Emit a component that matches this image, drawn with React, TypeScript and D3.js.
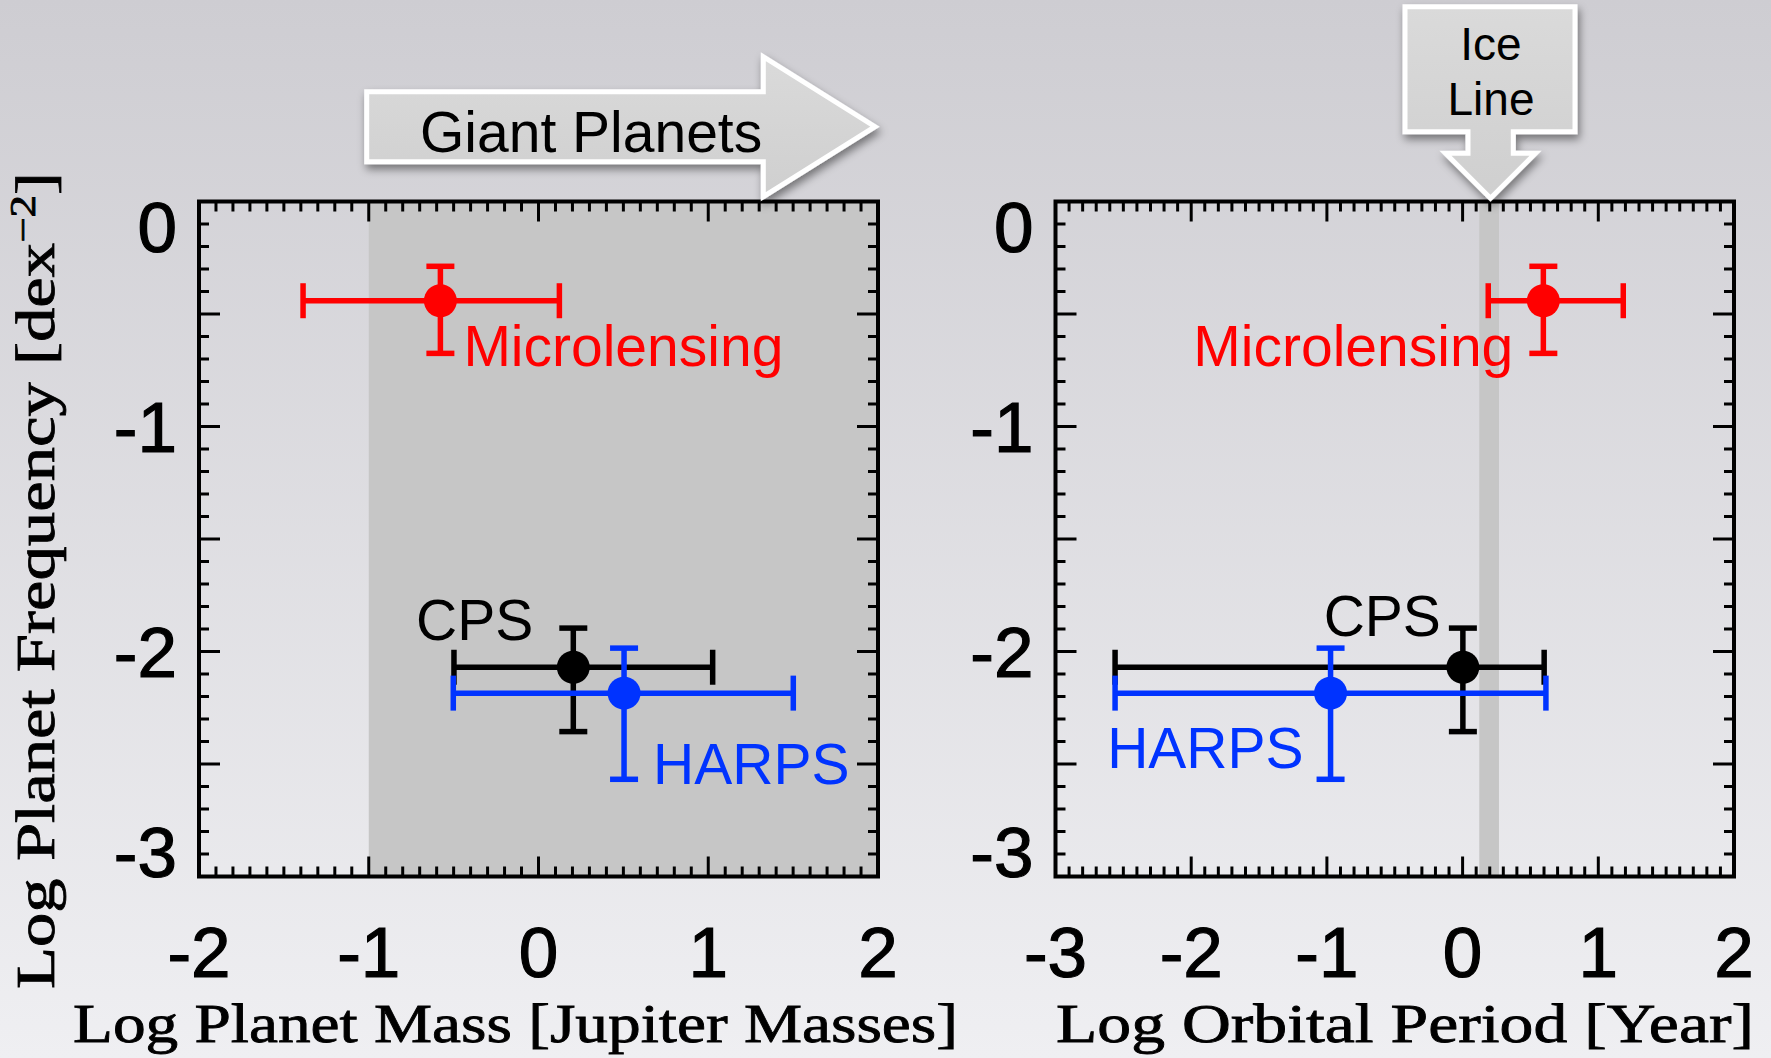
import React from "react";
import * as d3 from "d3";

// ---------- data ----------
const surveys = ["Microlensing", "CPS", "HARPS"];
const surveyColors = ["#ff0000", "#000000", "#0033ff"];
// log planet frequency [dex^-2]
const logFreq = [-0.441, -2.07, -2.185];
const logFreqHigh = [-0.288, -1.896, -1.985];
const logFreqLow = [-0.675, -2.356, -2.568];
// log planet mass [Jupiter masses]
const logMass = [-0.578, 0.205, 0.504];
const logMassLow = [-1.387, -0.498, -0.502];
const logMassHigh = [0.123, 1.026, 1.501];
// log orbital period [year]
const logPeriod = [0.595, 0.002, -0.973];
const logPeriodLow = [0.189, -2.561, -2.561];
const logPeriodHigh = [1.184, 0.601, 0.614];

const massDomain = [-2, 2];
const periodDomain = [-3, 2];
const freqDomain = [0, -3];
const massTicks = [-2, -1, 0, 1, 2];
const periodTicks = [-3, -2, -1, 0, 1, 2];
const freqTicks = [0, -1, -2, -3];
const giantPlanetRange = [-1, 2];
const iceLineRange = [0.123, 0.268];

const W = 1771;
const H = 1058;
const SANS = "'Liberation Sans', Arial, Helvetica, sans-serif";
const SERIF = "'Liberation Serif', 'Times New Roman', serif";

type LabelPos = { anchor: "start" | "end"; dx: number; dy: number };

function frac(a: number, b: number, step: number) {
  const n = Math.round((b - a) / step);
  return d3.range(n + 1).map((i) => +(a + i * step).toFixed(4));
}

function Panel(props: {
  x0: number;
  x1: number;
  domain: number[];
  xTicks: number[];
  xv: number[];
  xl: number[];
  xh: number[];
  shade: number[];
  labels: LabelPos[];
}) {
  const { x0, x1, domain, xTicks, xv, xl, xh, shade, labels } = props;
  const x = d3.scaleLinear().domain(domain).range([x0, x1]);
  const y = d3.scaleLinear().domain(freqDomain).range([201.5, 876.5]);
  const [top, bottom] = y.range();
  const minorX = frac(domain[0], domain[1], 0.1);
  const minorY = frac(-3, 0, 0.1);
  const isMajorX = (v: number) => Math.abs(v - Math.round(v)) < 1e-6;
  const isMajorY = (v: number) => Math.abs(v * 2 - Math.round(v * 2)) < 1e-6;
  const capH = 71 * 0.716;
  return (
    <g>
      <rect
        x={x(shade[0])}
        y={top}
        width={x(shade[1]) - x(shade[0])}
        height={bottom - top}
        fill="#c6c6c6"
      />
      {/* ticks */}
      {minorX.map((v, i) => {
        const L = isMajorX(v) ? 20 : 10;
        return (
          <g key={"xt" + i} stroke="#000" strokeWidth={3}>
            <line x1={x(v)} x2={x(v)} y1={top} y2={top + L} />
            <line x1={x(v)} x2={x(v)} y1={bottom} y2={bottom - L} />
          </g>
        );
      })}
      {minorY.map((v, i) => {
        const L = isMajorY(v) ? 21 : 10;
        return (
          <g key={"yt" + i} stroke="#000" strokeWidth={3}>
            <line x1={x0} x2={x0 + L} y1={y(v)} y2={y(v)} />
            <line x1={x1} x2={x1 - L} y1={y(v)} y2={y(v)} />
          </g>
        );
      })}
      <rect
        x={x0}
        y={top}
        width={x1 - x0}
        height={bottom - top}
        fill="none"
        stroke="#000"
        strokeWidth={4}
      />
      {/* tick labels */}
      {xTicks.map((v) => (
        <text
          key={"xl" + v}
          x={x(v)}
          y={977}
          textAnchor="middle"
          fontFamily={SANS}
          fontSize={71}
          fill="#000"
          stroke="#000"
          strokeWidth={1.2}
        >
          {v < 0 ? "-" + Math.abs(v) : String(v)}
        </text>
      ))}
      {freqTicks.map((v) => {
        const c = Math.min(Math.max(y(v), top + capH / 2), bottom - capH / 2);
        return (
          <text
            key={"yl" + v}
            x={x0 - 22}
            y={c + capH / 2}
            textAnchor="end"
            fontFamily={SANS}
            fontSize={71}
            fill="#000"
            stroke="#000"
            strokeWidth={1.2}
          >
            {v < 0 ? "-" + Math.abs(v) : String(v)}
          </text>
        );
      })}
      {/* error bars */}
      {surveys.map((s, i) => {
        const col = surveyColors[i];
        const cx = x(xv[i]);
        const cy = y(logFreq[i]);
        const xa = x(xl[i]);
        const xb = x(xh[i]);
        const ya = y(logFreqHigh[i]);
        const yb = y(logFreqLow[i]);
        const lab = labels[i];
        return (
          <g key={s} stroke={col} strokeWidth={5.5} fill={col}>
            <line x1={xa} x2={xb} y1={cy} y2={cy} />
            <line x1={xa} x2={xa} y1={cy - 17.5} y2={cy + 17.5} />
            <line x1={xb} x2={xb} y1={cy - 17.5} y2={cy + 17.5} />
            <line x1={cx} x2={cx} y1={ya} y2={yb} />
            <line x1={cx - 14} x2={cx + 14} y1={ya} y2={ya} />
            <line x1={cx - 14} x2={cx + 14} y1={yb} y2={yb} />
            <circle cx={cx} cy={cy} r={16.5} stroke="none" />
            <text
              x={cx + lab.dx}
              y={cy + lab.dy}
              textAnchor={lab.anchor}
              fontFamily={SANS}
              fontSize={57}
              stroke="none"
            >
              {s}
            </text>
          </g>
        );
      })}
    </g>
  );
}

export default function App() {
  const giantArrow = [
    [366.7, 91.7],
    [763.3, 91.7],
    [763.3, 56.7],
    [875, 126.7],
    [763.3, 196.7],
    [763.3, 161.7],
    [366.7, 161.7],
  ];
  const iceArrow = [
    [1405, 6.7],
    [1575, 6.7],
    [1575, 131.7],
    [1513.3, 131.7],
    [1513.3, 153.3],
    [1535.5, 153.3],
    [1490.5, 198.3],
    [1445.5, 153.3],
    [1468, 153.3],
    [1468, 131.7],
    [1405, 131.7],
  ];
  const pts = (a: number[][]) => a.map((p) => p.join(",")).join(" ");
  return (
    <svg
      width={W}
      height={H}
      viewBox={`0 0 ${W} ${H}`}
      style={{ position: "absolute", left: 0, top: 0, display: "block" }}
    >
      <defs>
        <linearGradient id="bg" x1="0" y1="0" x2="0" y2="1">
          <stop offset="0" stopColor="#cecdd2" />
          <stop offset="1" stopColor="#efeff2" />
        </linearGradient>
        <linearGradient id="arrowFill" x1="0" y1="0" x2="0" y2="1">
          <stop offset="0" stopColor="#dadada" />
          <stop offset="1" stopColor="#cfcfcf" />
        </linearGradient>
        <filter id="shadow" x="-20%" y="-20%" width="140%" height="150%">
          <feDropShadow dx="2" dy="5" stdDeviation="4" floodColor="#000" floodOpacity="0.45" />
        </filter>
      </defs>
      <rect x={0} y={0} width={W} height={H} fill="url(#bg)" />

      <Panel
        x0={199}
        x1={878}
        domain={massDomain}
        xTicks={massTicks}
        xv={logMass}
        xl={logMassLow}
        xh={logMassHigh}
        shade={giantPlanetRange}
        labels={[
          { anchor: "start", dx: 23, dy: 65 },
          { anchor: "end", dx: -40, dy: -27 },
          { anchor: "start", dx: 29, dy: 91 },
        ]}
      />
      <Panel
        x0={1055.5}
        x1={1734}
        domain={periodDomain}
        xTicks={periodTicks}
        xv={logPeriod}
        xl={logPeriodLow}
        xh={logPeriodHigh}
        shade={iceLineRange}
        labels={[
          { anchor: "end", dx: -30, dy: 65 },
          { anchor: "end", dx: -22, dy: -31 },
          { anchor: "end", dx: -27, dy: 75 },
        ]}
      />

      {/* arrows */}
      <polygon
        points={pts(giantArrow)}
        fill="url(#arrowFill)"
        stroke="#ffffff"
        strokeWidth={5}
        strokeLinejoin="miter"
        filter="url(#shadow)"
      />
      <text x={420} y={151.7} fontFamily={SANS} fontSize={57} fill="#000">
        Giant Planets
      </text>
      <polygon
        points={pts(iceArrow)}
        fill="url(#arrowFill)"
        stroke="#ffffff"
        strokeWidth={5}
        strokeLinejoin="miter"
        filter="url(#shadow)"
      />
      <text x={1491} y={60} textAnchor="middle" fontFamily={SANS} fontSize={46} fill="#000">
        Ice
      </text>
      <text x={1491} y={115} textAnchor="middle" fontFamily={SANS} fontSize={46} fill="#000">
        Line
      </text>

      {/* axis titles */}
      <g fill="#000" stroke="#000" strokeWidth={0.8}>
        <text
          x={73}
          y={1042}
          fontFamily={SERIF}
          fontSize={55}
          textLength={885}
          lengthAdjust="spacingAndGlyphs"
        >
          Log Planet Mass [Jupiter Masses]
        </text>
        <text
          x={1056}
          y={1042}
          fontFamily={SERIF}
          fontSize={55}
          textLength={698}
          lengthAdjust="spacingAndGlyphs"
        >
          Log Orbital Period [Year]
        </text>
        <text
          transform="translate(54,989) rotate(-90)"
          x={0}
          y={0}
          fontFamily={SERIF}
          fontSize={55}
          textLength={817}
          lengthAdjust="spacingAndGlyphs"
        >
          Log Planet Frequency [dex
          <tspan dy={-19} fontSize={36}>
            −2
          </tspan>
          <tspan dy={19}>]</tspan>
        </text>
      </g>
    </svg>
  );
}
